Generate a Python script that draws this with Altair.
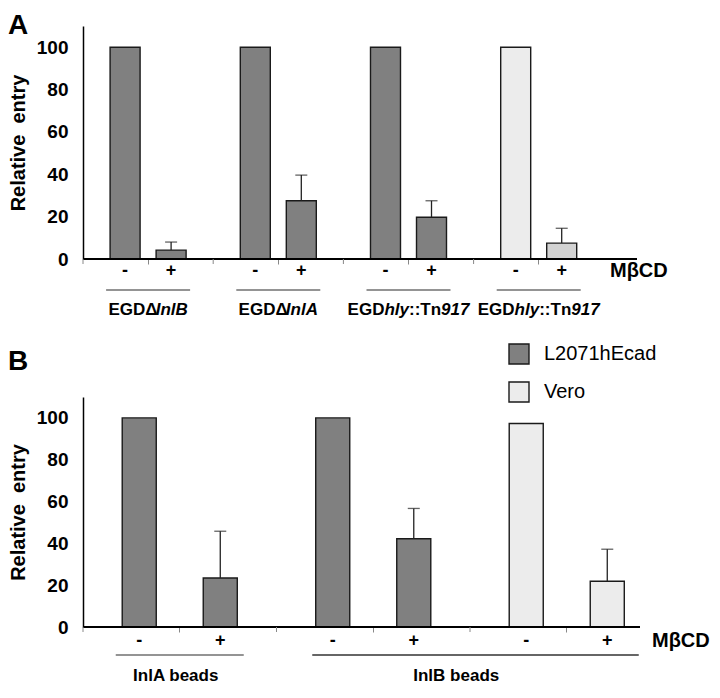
import altair as alt
import pandas as pd

# ---------------- data ----------------
treatments = ["-", "+"]
cell_lines = ["L2071hEcad", "Vero"]

# Panel A
a_groups = ["EGDΔinlB", "EGDΔinlA", "EGDhly::Tn917 (L2071hEcad)", "EGDhly::Tn917 (Vero)"]
a_cells = ["L2071hEcad", "L2071hEcad", "L2071hEcad", "Vero"]
a_minus = [100, 100, 100, 100]
a_plus = [4.2, 27.5, 19.7, 7.5]
a_plus_err = [3.8, 12.1, 7.8, 7.0]
a_labels = [
    [("EGDΔ", False), ("InlB", True)],
    [("EGDΔ", False), ("InlA", True)],
    [("EGD", False), ("hly", True), ("::Tn", False), ("917", True)],
    [("EGD", False), ("hly", True), ("::Tn", False), ("917", True)],
]

# Panel B
b_groups = ["InlA beads (L2071hEcad)", "InlB beads (L2071hEcad)", "InlB beads (Vero)"]
b_cells = ["L2071hEcad", "L2071hEcad", "Vero"]
b_minus = [100, 100, 97.3]
b_plus = [23.4, 42.2, 21.9]
b_plus_err = [22.4, 14.5, 15.3]
b_labels = ["InlA beads", "InlB beads"]

panel_letters = ["A", "B"]
treatment_title = "MβCD"

# ---------------- style ----------------
FONT = "Liberation Sans"
cell_colors = ["#808080", "#ececec"]
EDGE = "#1a1a1a"

# approximate Arial-bold advance widths (em) to lay out mixed italic labels
ADV = {'E': .667, 'G': .778, 'D': .722, 'Δ': .612, 'I': .278, 'n': .611, 'l': .278,
       'B': .722, 'A': .722, 'h': .611, 'y': .556, ':': .333, 'T': .611,
       '9': .556, '1': .556, '7': .556}


def bars_df(groups, cells, minus, plus, err):
    rows = []
    for g, c, m, p, e in zip(groups, cells, minus, plus, err):
        rows.append(dict(group=g, cell=c, treatment="-", value=m, err=0.0))
        rows.append(dict(group=g, cell=c, treatment="+", value=p, err=e))
    return pd.DataFrame(rows)


def panel(groups, cells, minus, plus, err, width, height, span, off_pi, off_po,
          vero_plus_fill, legend, letter, letter_y, tdy, mb_x, mb_dy):
    df = bars_df(groups, cells, minus, plus, err)
    xs = alt.Scale(domain=groups, range=[0, span], paddingInner=0, paddingOuter=0)
    xax = alt.Axis(labels=False, title=None, domain=False, ticks=True, tickSize=5,
                   tickColor="#888", tickWidth=1, grid=False)

    def X(**kw):
        return alt.X("group:N", scale=xs, axis=xax, sort=groups, **kw)

    XO = alt.XOffset("treatment:N", sort=treatments,
                     scale=alt.Scale(domain=treatments, paddingInner=off_pi, paddingOuter=off_po))
    ys = alt.Scale(domain=[0, 110], nice=False)
    yax = alt.Axis(values=[0, 20, 40, 60, 80, 100], labelFontSize=19, labelFontWeight="bold",
                   labelFont=FONT, labelColor="black", labelPadding=15, ticks=False,
                   domainColor="black", domainWidth=1.5, grid=False,
                   title="Relative\u00a0 entry", titleFontSize=20, titleFontWeight="bold",
                   titleFont=FONT, titleColor="black", titlePadding=8)

    def Y(f):
        return alt.Y(f, scale=ys, axis=yax)

    base = alt.Chart(df)
    color = alt.condition(
        "datum.cell === 'Vero' && datum.treatment === '+'",
        alt.value(vero_plus_fill),
        alt.Color("cell:N", scale=alt.Scale(domain=cell_lines, range=cell_colors), legend=legend),
    )
    bars = base.mark_bar(stroke=EDGE, strokeWidth=1.4).encode(
        x=X(), xOffset=XO, y=Y("value:Q"), color=color)

    baseline = alt.Chart(pd.DataFrame({"v": [0]})).mark_rule(color="black", strokeWidth=2).encode(
        y=Y("v:Q"))

    gdf = pd.DataFrame({"group": groups})
    bticks = alt.Chart(gdf).mark_rule(color="#888", strokeWidth=1).encode(
        x=X(bandPosition=0), y=alt.value(height), y2=alt.value(height + 5))

    errs = base.transform_filter("datum.err > 0").transform_calculate(upper="datum.value + datum.err")
    erule = errs.mark_rule(color="#222", strokeWidth=1.3).encode(
        x=X(), xOffset=XO, y=Y("value:Q"), y2="upper:Q")
    ecap = errs.mark_tick(color="#222", thickness=1.3, size=12, orient="horizontal").encode(
        x=X(), xOffset=XO, y=Y("upper:Q"))

    ttext = base.mark_text(fontSize=18, fontWeight="bold", font=FONT, baseline="middle",
                           color="black").encode(
        x=X(), xOffset=XO, y=alt.value(height + tdy), text="treatment:N")

    ldf = pd.DataFrame({"t": [letter]})
    let = alt.Chart(ldf).mark_text(fontSize=28, fontWeight="bold", font=FONT, align="left",
                                   baseline="top", color="black").encode(
        x=alt.value(-75), y=alt.value(letter_y), text="t:N")

    mdf = pd.DataFrame({"t": [treatment_title]})
    mb = alt.Chart(mdf).mark_text(fontSize=20, fontWeight="bold", font=FONT, align="left",
                                  baseline="middle", color="black").encode(
        x=alt.value(mb_x), y=alt.value(height + mb_dy), text="t:N")

    return [bars, baseline, bticks, erule, ecap, ttext, let, mb], X, gdf


# ---------------- panel A ----------------
HA, WA = 233, 554
layersA, XA, gA = panel(a_groups, a_cells, a_minus, a_plus, a_plus_err, WA, HA, 520.8,
                        0.348, 0.589, "#d3d3d3", None, panel_letters[0], -14, 12, 527, 12)

ulA = alt.Chart(gA).mark_tick(orient="horizontal", size=84, thickness=1.3, color="#333").encode(
    x=XA(), y=alt.value(HA + 31))
layersA.append(ulA)

seg_rows = []
for g, segs in zip(a_groups, a_labels):
    total = sum(ADV[ch] for s, _ in segs for ch in s) * 17
    pos = -total / 2
    for i, (s, it) in enumerate(segs):
        seg_rows.append(dict(group=g, seg=s, italic=it, idx=i, dx=pos))
        pos += sum(ADV[ch] for ch in s) * 17
segdf = pd.DataFrame(seg_rows)
for r in seg_rows:
    layersA.append(
        alt.Chart(segdf).transform_filter(
            f"datum.group === '{r['group']}' && datum.idx === {r['idx']}"
        ).mark_text(fontSize=17, fontWeight="bold", font=FONT, align="left",
                    baseline="alphabetic", color="black", dx=r["dx"],
                    fontStyle="italic" if r["italic"] else "normal").encode(
            x=XA(), y=alt.value(HA + 56), text="seg:N"))

chartA = alt.layer(*layersA).properties(width=WA, height=HA)

# ---------------- panel B ----------------
HB, WB = 230, 557
legB = alt.Legend(orient="none", legendX=425, legendY=-54, title=None, symbolType="square",
                  symbolSize=400, symbolStrokeColor=EDGE, symbolStrokeWidth=1.4,
                  labelFontSize=20, labelFont=FONT, labelColor="black", labelOffset=14,
                  rowPadding=12, padding=0, symbolOpacity=1)
layersB, XB, gB = panel(b_groups, b_cells, b_minus, b_plus, b_plus_err, WB, HB, 580.5,
                        0.58, 0.484, "#ececec", legB, panel_letters[1], -49, 14, 569, 14)

lab_df = pd.DataFrame({"group": [b_groups[0], b_groups[1]], "t": b_labels})
ulB1 = alt.Chart(lab_df.iloc[[0]]).mark_tick(orient="horizontal", size=128, thickness=1.3,
                                             color="#333").encode(x=XB(), y=alt.value(HB + 28))
span_df = pd.DataFrame({"group": [b_groups[1]], "group_end": [b_groups[2]]})
ulB2 = alt.Chart(span_df).mark_rule(strokeWidth=1.3, color="#333", xOffset=-61, x2Offset=72).encode(
    x=XB(), x2=alt.X2("group_end:N"), y=alt.value(HB + 28))
labB1 = alt.Chart(lab_df.iloc[[0]]).mark_text(fontSize=17, fontWeight="bold", font=FONT,
                                              baseline="alphabetic", color="black", dx=-4).encode(
    x=XB(), y=alt.value(HB + 54), text="t:N")
labB2 = alt.Chart(lab_df.iloc[[1]]).mark_text(fontSize=17, fontWeight="bold", font=FONT,
                                              baseline="alphabetic", color="black", dx=83).encode(
    x=XB(), y=alt.value(HB + 54), text="t:N")
layersB += [ulB1, ulB2, labB1, labB2]

chartB = alt.layer(*layersB).properties(width=WB, height=HB)

chart = alt.vconcat(chartA, chartB, spacing=25, background="white",
                    padding={"top": 4, "left": 0, "right": 0, "bottom": 0}).resolve_scale(
    x="independent", y="independent", color="independent", xOffset="independent"
).configure_view(strokeWidth=0)

chart.save("out.html", embed_options={"renderer": "svg", "actions": False})
